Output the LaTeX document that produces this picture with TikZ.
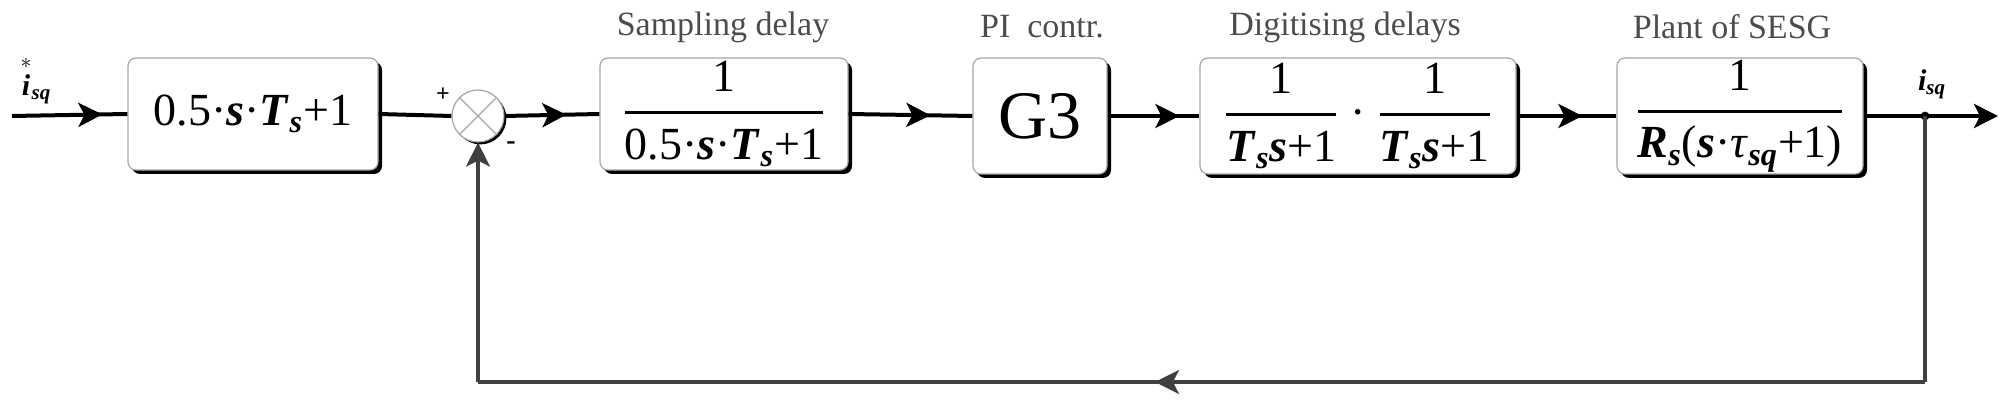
\documentclass[tikz,border=0pt]{standalone}
\usepackage{fontspec}
\setmainfont{Liberation Serif}
\usepackage{amsmath}
\usetikzlibrary{arrows.meta,shadows,decorations.markings,calc}
\newcommand{\bv}[1]{\textbf{\textit{#1}}}
\newcommand{\tf}[2]{\genfrac{}{}{1.6pt}{0}{\text{#1}}{\text{#2}}}
\begin{document}
\begin{tikzpicture}[x=0.5pt,y=-0.5pt,
  >={Stealth[length=12pt,width=12pt,inset=3pt]},
  blk/.style={draw=gray!70, line width=0.6pt, rounded corners=4pt, fill=white,
    inner sep=0pt, drop shadow={shadow xshift=2pt, shadow yshift=-2pt, fill=black, opacity=1},
    font=\fontsize{23}{26}\selectfont},
  ttl/.style={font=\fontsize{17}{20}\selectfont, text=black!70},
  wire/.style={line width=2pt, black},
  fb/.style={line width=1.6pt, black!75},
  midarr/.style={postaction={decorate}, decoration={markings, mark=at position #1 with {\arrow{>}}}},
  lbl/.style={font=\fontsize{15}{17}\selectfont, inner sep=0pt}
]
\useasboundingbox (0,0) rectangle (2005,410);

\coordinate (in) at (12,116);
\node[blk, minimum width=125pt, minimum height=56pt] (b1) at (253,114) {0.5·\bv{s}·\bv{T}\textsubscript{\bv{s}}+1};
\node[circle, draw=gray!70, line width=0.6pt, fill=white, minimum size=26pt, inner sep=0pt,
  drop shadow={shadow xshift=1.2pt, shadow yshift=-1.2pt, fill=black, opacity=1}] (sum) at (478,116) {};
\draw[gray!70, line width=0.6pt] (sum.north west) -- (sum.south east) (sum.north east) -- (sum.south west);
\node[blk, minimum width=124pt, minimum height=56pt] (b2) at (724,114) {$\tf{1}{0.5·\bv{s}·\bv{T}\textsubscript{\bv{s}}+1}$};
\node[blk, minimum width=67pt, minimum height=58pt, font=\fontsize{34}{36}\selectfont] (b3) at (1040,116) {G3};
\node[blk, minimum width=158pt, minimum height=58pt] (b4) at (1358,116) {$\tf{1}{\bv{T}\textsubscript{\bv{s}}\bv{s}+1}\text{ · }\tf{1}{\bv{T}\textsubscript{\bv{s}}\bv{s}+1}$};
\node[blk, minimum width=123pt, minimum height=58pt] (b5) at (1740,116) {$\tf{1}{\bv{R}\textsubscript{\bv{s}}(\bv{s}·\textit{τ}\textsubscript{\bv{sq}}+1)}$};
\coordinate (br) at (1925,116);
\coordinate (out) at (1998,116);
\coordinate (fbR) at (1925,382);
\coordinate (fbL) at (478,382);

% titles
\node[ttl] (t2) at (723,27) {Sampling delay};
\node[ttl] (t3) at (1042,27) {PI\ \ contr.};
\node[ttl] (t4) at (1345,27) {Digitising delays};
\node[ttl] (t5) at (1732,27) {Plant of SESG};

% labels
\node[lbl] (lin) at (36,80) {$\overset{*}{\text{\bv{i}}}_{\text{\bv{sq}}}$};
\node[lbl] (lout) at (1932,84) {$\text{\bv{i}}_{\text{\bv{sq}}}$};
\node[font=\fontsize{12}{12}\selectfont\bfseries, inner sep=0pt] (plus) at (443,95) {+};
\node[font=\fontsize{14}{14}\selectfont\bfseries, inner sep=0pt] (minus) at (511,146) {-};

% forward path
\draw[wire, midarr=-12.5pt] (in) -- (b1.west);
\draw[wire] (b1.east) -- (sum.west);
\draw[wire, midarr=-16.5pt] (sum.east) -- (b2.west);
\draw[wire, midarr=-21pt] (b2.east) -- (b3.west);
\draw[wire, midarr=-10pt] (b3.east) -- (b4.west);
\draw[wire, midarr=-17pt] (b4.east) -- (b5.west);
\draw[wire, ->] (b5.east) -- (out);
\fill (br) circle (2.2pt);

% feedback
\draw[fb] (br) -- (fbR);
\draw[fb, midarr=385pt] (fbR) -- (fbL);
\draw[fb, ->] (fbL) -- (sum.south);
\end{tikzpicture}
\end{document}
